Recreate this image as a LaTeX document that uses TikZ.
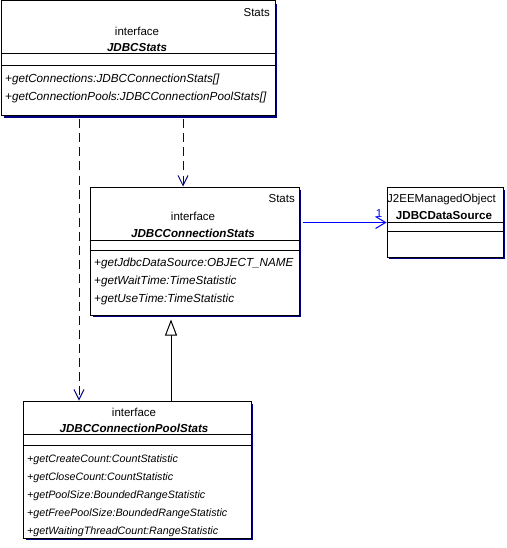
\documentclass[tikz,border=0pt]{standalone}
\usepackage{fontspec}
\setmainfont{Liberation Sans}
\usetikzlibrary{arrows.meta}
\definecolor{navy}{RGB}{0,0,128}
\definecolor{assocblue}{RGB}{0,0,255}
\tikzset{
  classbox/.style={draw=black, line width=1pt, fill=white, anchor=north west, inner sep=0pt},
  shadowfill/.style={fill=navy},
  sepline/.style={draw=black, line width=1pt},
  lbl/.style={font=\fontsize{11.5}{13}\selectfont, inner sep=0pt},
  ttl/.style={font=\fontsize{11.6}{13}\selectfont\bfseries\itshape, inner sep=0pt, anchor=base},
  meth/.style={font=\fontsize{11.7}{13}\selectfont\itshape, inner sep=0pt, anchor=base west},
  methsmall/.style={font=\fontsize{10.7}{13}\selectfont\itshape, inner sep=0pt, anchor=base west},
  dep/.style={draw=navy, line width=1pt, dash pattern=on 9pt off 5pt, -{Straight Barb[length=10pt,width=10pt,line width=1pt]}},
  gen/.style={draw=black, line width=1pt, -{Triangle[open,length=16pt,width=12pt,line width=1pt,fill=white]}},
  assoc/.style={draw=assocblue, line width=1pt, -{Straight Barb[length=10pt,width=12pt,line width=1pt]}},
}
\begin{document}
\begin{tikzpicture}[x=1pt,y=-1pt]
\useasboundingbox (0,0) rectangle (506,548);

% ---- JDBCStats
\fill[shadowfill] (4,4) rectangle (277,118);
\node[classbox, minimum width=274pt, minimum height=115pt] (b1) at (0.5,0.5) {};
\draw[sepline] (b1.west |- 0,54) -- (b1.east |- 0,54);
\draw[sepline] (b1.west |- 0,66) -- (b1.east |- 0,66);
\node[lbl, anchor=base east] (b1s) at (270,16.5) {Stats};
\node[lbl, anchor=base] (b1i) at (137,35.5) {interface};
\node[ttl] (b1n) at (137,51.5) {JDBCStats};
\node[meth] (b1m1) at (5,82.5) {+getConnections:JDBCConnectionStats[]};
\node[meth] (b1m2) at (5,100.5) {+getConnectionPools:JDBCConnectionPoolStats[]};

% ---- JDBCConnectionStats
\fill[shadowfill] (93,190) rectangle (301,317);
\node[classbox, minimum width=209pt, minimum height=128pt] (b2) at (89.5,186.5) {};
\draw[sepline] (b2.west |- 0,240) -- (b2.east |- 0,240);
\draw[sepline] (b2.west |- 0,250) -- (b2.east |- 0,250);
\node[lbl, anchor=base east] (b2s) at (295,202) {Stats};
\node[lbl, anchor=base] (b2i) at (193,220) {interface};
\node[ttl] (b2n) at (193,237) {JDBCConnectionStats};
\node[meth] (b2m1) at (94,266) {+getJdbcDataSource:OBJECT\_NAME};
\node[meth] (b2m2) at (94,284) {+getWaitTime:TimeStatistic};
\node[meth] (b2m3) at (94,302) {+getUseTime:TimeStatistic};

% ---- JDBCDataSource
\fill[shadowfill] (389,190) rectangle (505,259);
\node[classbox, minimum width=116pt, minimum height=70pt] (b3) at (386.5,186.5) {};
\draw[sepline] (b3.west |- 0,222.5) -- (b3.east |- 0,222.5);
\draw[sepline] (b3.west |- 0,231) -- (b3.east |- 0,231);
\node[lbl, anchor=base west] (b3s) at (387,202) {J2EEManagedObject};
\node[lbl, anchor=base, font=\fontsize{11.6}{13}\selectfont\bfseries] (b3n) at (444,219) {JDBCDataSource};

% ---- JDBCConnectionPoolStats
\fill[shadowfill] (26,404) rectangle (253,540);
\node[classbox, minimum width=228pt, minimum height=137pt] (b4) at (22.5,400.5) {};
\draw[sepline] (b4.west |- 0,434) -- (b4.east |- 0,434);
\draw[sepline] (b4.west |- 0,445) -- (b4.east |- 0,445);
\node[lbl, anchor=base] (b4i) at (134,416) {interface};
\node[ttl] (b4n) at (134,432) {JDBCConnectionPoolStats};
\node[methsmall] (b4m1) at (27,462) {+getCreateCount:CountStatistic};
\node[methsmall] (b4m2) at (27,480) {+getCloseCount:CountStatistic};
\node[methsmall] (b4m3) at (27,498) {+getPoolSize:BoundedRangeStatistic};
\node[methsmall] (b4m4) at (27,516) {+getFreePoolSize:BoundedRangeStatistic};
\node[methsmall] (b4m5) at (27,534) {+getWaitingThreadCount:RangeStatistic};

% ---- connectors
\draw[dep] ([yshift=-3pt]b1.south -| 79,0) -- (b4.north -| 79,0);
\draw[dep] ([yshift=-3pt]b1.south -| 183,0) -- (b2.north -| 183,0);
\draw[gen] (b4.north -| 171,0) -- ([yshift=-4pt]b2.south -| 171,0);
\draw[assoc] ([xshift=3pt]b2.east |- 0,222.5) -- (b3.west |- 0,222.5);
\node[lbl, text=assocblue, anchor=base] (mult) at (379,217) {1};
\end{tikzpicture}
\end{document}
